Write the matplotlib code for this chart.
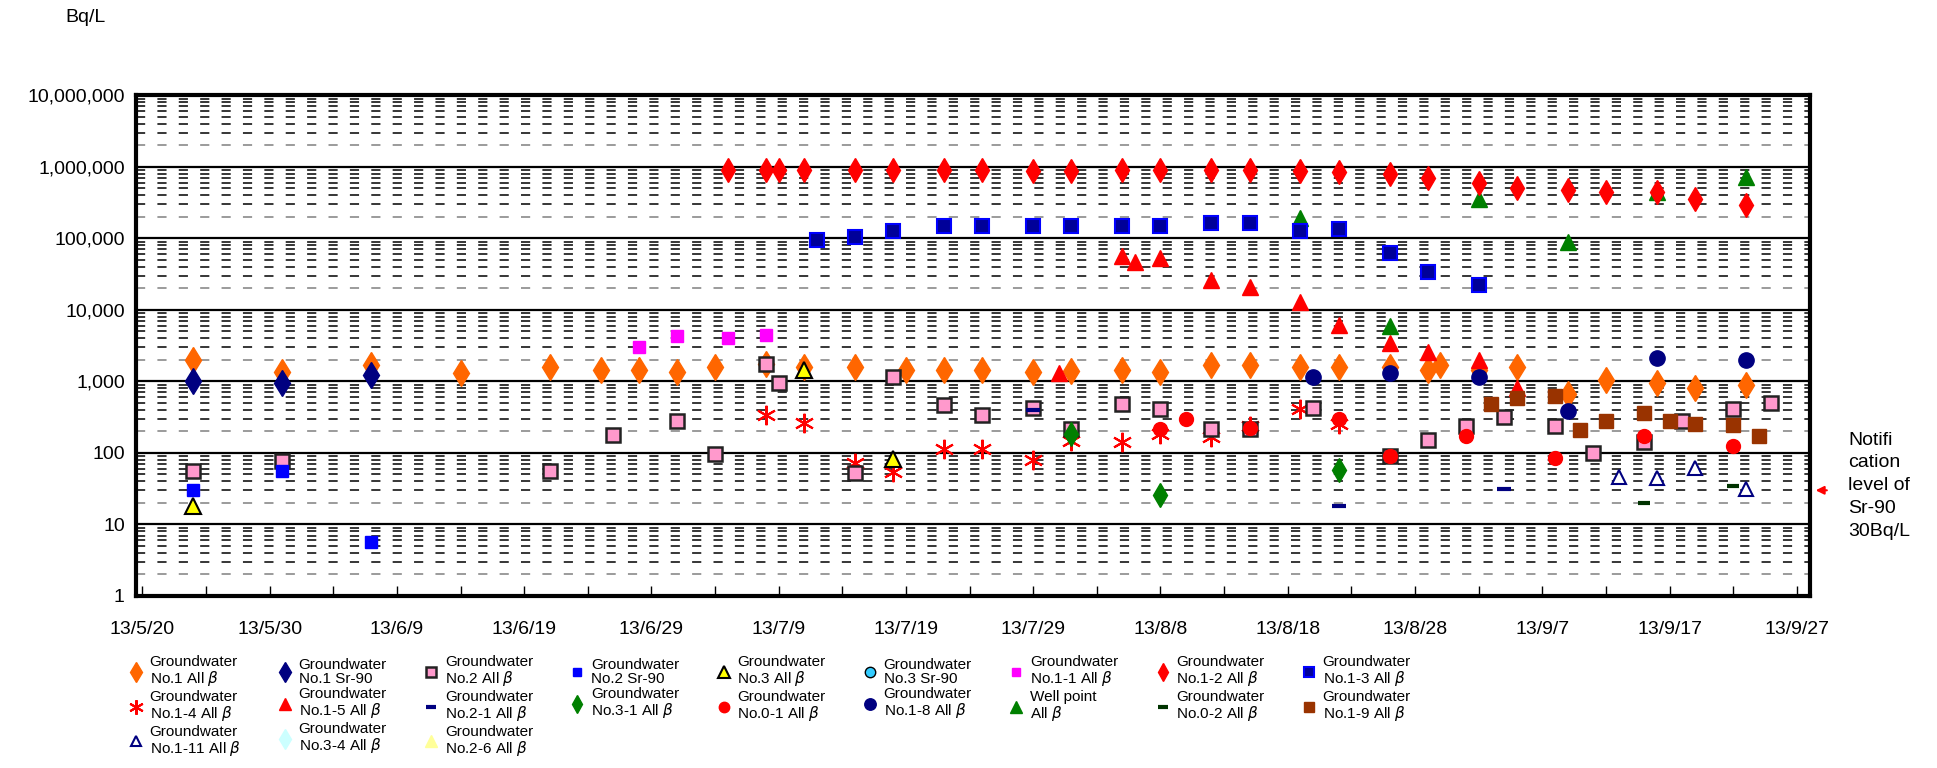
import matplotlib
matplotlib.use("Agg")
import matplotlib.pyplot as plt
import matplotlib.dates as mdates
from matplotlib.ticker import FuncFormatter, LogLocator, NullFormatter, FixedLocator
import pandas as pd

plt.rcParams['font.family'] = ['Liberation Sans', 'DejaVu Sans']

def D(lst):
    return pd.to_datetime(['2013/' + s for s in lst])

gw1_all_d = ['5/24','5/31','6/7','6/14','6/21','6/25','6/28','7/1','7/4','7/8','7/11','7/15','7/19','7/22','7/25','7/29','8/1','8/5','8/8','8/12','8/15','8/19','8/22','8/26','8/29','8/30','9/2','9/5','9/9','9/12','9/16','9/19','9/23']
gw1_all_v = [2000,1340,1700,1290,1580,1450,1450,1340,1580,1770,1580,1580,1450,1450,1450,1340,1400,1450,1340,1700,1700,1580,1580,1580,1450,1700,1450,1580,660,1050,940,800,900]
gw1_sr_d = ['5/24','5/31','6/7']
gw1_sr_v = [1000,940,1230]
gw2_all_d = ['5/24','5/31','6/21','6/26','7/1','7/4','7/8','7/9','7/15','7/18','7/22','7/25','7/29','8/1','8/5','8/8','8/12','8/15','8/20','8/26','8/29','9/1','9/4','9/8','9/11','9/15','9/18','9/22','9/25']
gw2_all_v = [56,78,56,177,275,98,1770,940,52,1150,460,340,425,215,480,410,215,215,425,90,150,240,320,235,100,140,275,410,500]
gw2_sr_d = ['5/24','5/31','6/7']
gw2_sr_v = [30,55,5.7]
gw3_all_d = ['5/24','7/11','7/18']
gw3_all_v = [18,1450,83]
gw11_d = ['6/28','7/1','7/5','7/8']
gw11_v = [3000,4300,4000,4500]
gw12_d = ['7/5','7/8','7/9','7/11','7/15','7/18','7/22','7/25','7/29','8/1','8/5','8/8','8/12','8/15','8/19','8/22','8/26','8/29','9/2','9/5','9/9','9/12','9/16','9/19','9/23']
gw12_v = [910000,910000,910000,910000,910000,910000,910000,910000,880000,880000,910000,910000,910000,910000,880000,850000,780000,700000,600000,500000,470000,440000,440000,360000,290000]
gw13_d = ['7/12','7/15','7/18','7/22','7/25','7/29','8/1','8/5','8/8','8/12','8/15','8/19','8/22','8/26','8/29','9/2']
gw13_v = [95000,105000,125000,150000,150000,150000,150000,150000,150000,165000,165000,125000,135000,62000,34000,22000]
gw14_d = ['7/8','7/11','7/15','7/18','7/22','7/25','7/29','8/1','8/5','8/8','8/12','8/15','8/19','8/22']
gw14_v = [335,265,72,54,115,115,80,145,140,185,165,235,410,255]
gw15_d = ['7/31','8/5','8/6','8/8','8/12','8/15','8/19','8/22','8/26','8/29','9/2','9/5']
gw15_v = [1290,57000,47000,53000,26000,21000,13000,6200,3400,2600,2000,800]
gw21_d = ['7/29','8/22','9/4']
gw21_v = [400,18,31]
gw31_d = ['8/1','8/8','8/22']
gw31_v = [185,26,57]
gw01_d = ['8/8','8/10','8/15','8/22','8/26','9/1','9/8','9/15','9/22']
gw01_v = [215,300,225,300,90,170,84,175,125]
gw18_d = ['8/20','8/26','9/2','9/9','9/16','9/23']
gw18_v = [1150,1290,1150,390,2150,2000]
well_d = ['8/19','8/26','9/2','9/9','9/16','9/23']
well_v = [190000,6000,360000,88000,450000,720000]
gw02_d = ['9/15','9/22']
gw02_v = [20,35]
gw19_d = ['9/3','9/5','9/8','9/10','9/12','9/15','9/17','9/19','9/22','9/24']
gw19_v = [480,580,620,210,275,360,275,255,245,170]
gw111_d = ['9/13','9/16','9/19','9/23']
gw111_v = [46,44,61,31]

B = '$\\beta$'
series = [
    # label, dates, values, marker, ms, face, edge, mew
    ('Groundwater\nNo.1 All ' + B, gw1_all_d, gw1_all_v, 'd', 13, '#FF6600', '#FF6600', 1),
    ('Groundwater\nNo.1-4 All ' + B, gw14_d, gw14_v, (6, 2, 0), 14, '#FF0000', '#FF0000', 1.5),
    ('Groundwater\nNo.1-11 All ' + B, gw111_d, gw111_v, '^', 10, 'white', '#000080', 1.5),
    ('Groundwater\nNo.1 Sr-90', gw1_sr_d, gw1_sr_v, 'd', 13, '#000080', '#000080', 1),
    ('Groundwater\nNo.1-5 All ' + B, gw15_d, gw15_v, '^', 12, '#FF0000', '#FF0000', 1),
    ('Groundwater\nNo.3-4 All ' + B, [], [], 'd', 13, '#CCFFFF', '#CCFFFF', 1),
    ('Groundwater\nNo.2 All ' + B, gw2_all_d, gw2_all_v, 's', 10, '#FF99CC', '#222222', 1.8),
    ('Groundwater\nNo.2-1 All ' + B, gw21_d, gw21_v, '_', 10, '#000080', '#000080', 3),
    ('Groundwater\nNo.2-6 All ' + B, [], [], '^', 12, '#FFFF99', '#FFFF99', 1),
    ('Groundwater\nNo.2 Sr-90', gw2_sr_d, gw2_sr_v, 's', 8.5, '#0000FF', '#0000FF', 1),
    ('Groundwater\nNo.3-1 All ' + B, gw31_d, gw31_v, 'd', 12, '#008000', '#008000', 1),
    ('Groundwater\nNo.3 All ' + B, gw3_all_d, gw3_all_v, '^', 12, '#FFFF00', '#000000', 1.5),
    ('Groundwater\nNo.0-1 All ' + B, gw01_d, gw01_v, 'o', 10, '#FF0000', '#FF0000', 1),
    ('Groundwater\nNo.3 Sr-90', [], [], 'o', 10, '#33CCFF', '#000000', 1),
    ('Groundwater\nNo.1-8 All ' + B, gw18_d, gw18_v, 'o', 11, '#000080', '#000080', 1),
    ('Groundwater\nNo.1-1 All ' + B, gw11_d, gw11_v, 's', 8.5, '#FF00FF', '#FF00FF', 1),
    ('Well point\nAll ' + B, well_d, well_v, '^', 11, '#008000', '#008000', 1),
    ('Groundwater\nNo.1-2 All ' + B, gw12_d, gw12_v, 'd', 12, '#FF0000', '#FF0000', 1),
    ('Groundwater\nNo.0-2 All ' + B, gw02_d, gw02_v, '_', 9, '#003300', '#003300', 3),
    ('Groundwater\nNo.1-3 All ' + B, gw13_d, gw13_v, 's', 9.5, '#000099', '#0000FF', 1.5),
    ('Groundwater\nNo.1-9 All ' + B, gw19_d, gw19_v, 's', 9.5, '#993300', '#993300', 1),
]

fig = plt.figure(figsize=(19.37, 7.68), dpi=100)
ax = fig.add_axes([0.0702, 0.224, 0.864, 0.652])
ax.set_yscale('log')
ax.set_ylim(1, 1e7)
ax.set_xlim(pd.Timestamp('2013-05-19 12:00'), pd.Timestamp('2013-09-28 00:00'))

for dec in range(0, 7):
    for k in range(2, 10):
        ax.axhline(k * 10 ** dec, color='#808080' if k == 2 else 'black', lw=1.1,
                   ls=(0, (6, 8)), zorder=1)
    if dec > 0:
        ax.axhline(10 ** dec, color='black', lw=1.6, zorder=1)

handles = []
for lab, d, v, m, ms, fc, ec, mew in series:
    h, = ax.plot(D(d) if d else [], v, ls='none', marker=m, ms=ms, mfc=fc, mec=ec,
                 mew=mew, label=lab, zorder=3)
    handles.append(h)

for s in ax.spines.values():
    s.set_linewidth(3)
ax.yaxis.set_major_locator(LogLocator(base=10, numticks=10))
ax.yaxis.set_minor_formatter(NullFormatter())
ax.yaxis.set_major_formatter(FuncFormatter(lambda v, p: f'{int(round(v)):,}'))
ax.tick_params(axis='y', which='both', length=0, labelsize=14, pad=8)
ax.xaxis.set_major_locator(FixedLocator(mdates.date2num(pd.date_range('2013-05-20', '2013-09-27', freq='10D'))))
ax.xaxis.set_minor_locator(FixedLocator(mdates.date2num(pd.date_range('2013-05-25', '2013-09-27', freq='10D'))))
ax.xaxis.set_major_formatter(FuncFormatter(lambda x, p: (lambda t: f'13/{t.month}/{t.day}')(mdates.num2date(x))))
ax.tick_params(axis='x', which='both', direction='in', length=7, width=1, labelsize=14, pad=18)

fig.text(0.044, 0.977, 'Bq/L', fontsize=14, ha='center', va='center')
fig.text(0.954, 0.438, 'Notifi\ncation\nlevel of\nSr-90\n30Bq/L', fontsize=14, ha='left', va='top',
         linespacing=1.45)
ax.annotate('', xy=(1.002, 30), xycoords=('axes fraction', 'data'),
            xytext=(1.012, 30), textcoords=('axes fraction', 'data'),
            arrowprops=dict(arrowstyle='-|>', color='red', lw=1.5, mutation_scale=12))

leg = fig.legend(handles=handles, loc='upper left', bbox_to_anchor=(0.063, 0.155), ncol=9,
                 frameon=False, fontsize=11, handlelength=1.0, handletextpad=0.4,
                 columnspacing=2.4, labelspacing=0.12, borderaxespad=0, markerscale=0.75)
for t in leg.get_texts():
    t.set_linespacing(1.0)

fig.savefig('out.png', dpi=100)
